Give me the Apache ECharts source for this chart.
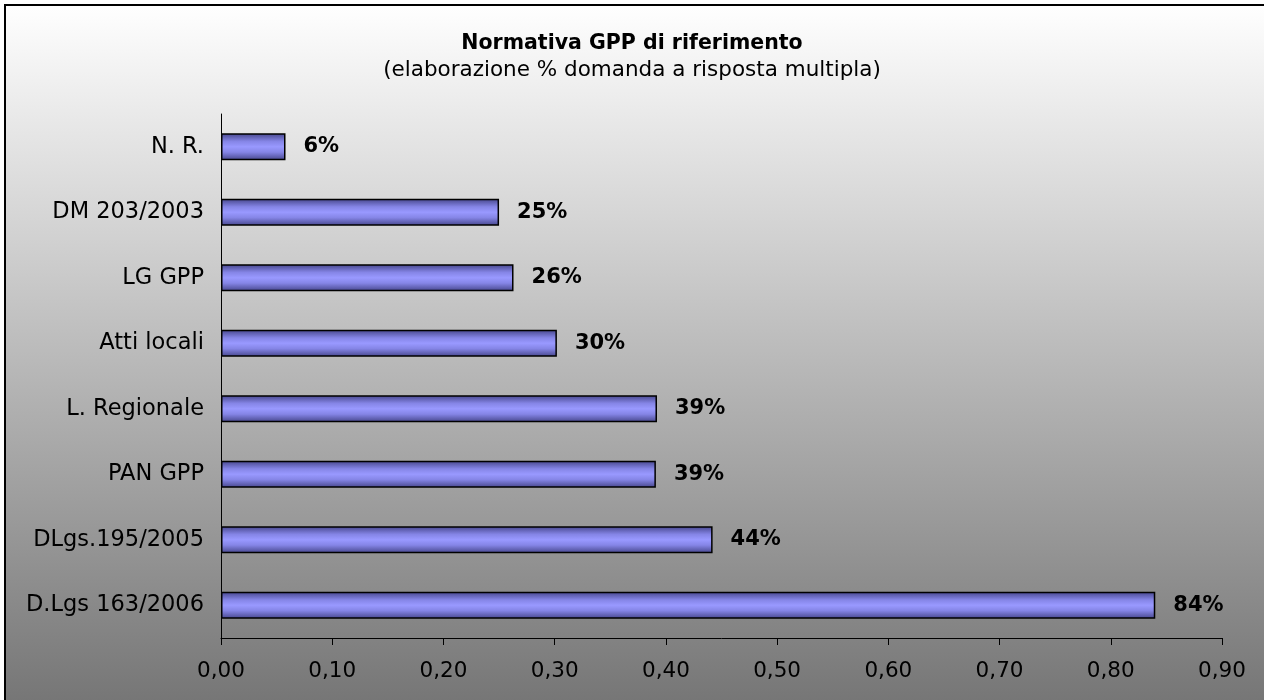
<!DOCTYPE html>
<html>
<head>
<meta charset="utf-8">
<script src="https://cdn.jsdelivr.net/npm/echarts@6/dist/echarts.min.js"></script>
<style>
html,body{margin:0;padding:0;background:#fff;}
#chart{width:1264px;height:700px;}
</style>
</head>
<body>
<div id="chart"></div>
<script>
// Data (top-to-bottom display order)
var categories = ['N. R.', 'DM 203/2003', 'LG GPP', 'Atti locali', 'L. Regionale', 'PAN GPP', 'DLgs.195/2005', 'D.Lgs 163/2006'];
var values = [0.058, 0.25, 0.263, 0.302, 0.392, 0.391, 0.442, 0.84];
var xTicks = ['0,00', '0,10', '0,20', '0,30', '0,40', '0,50', '0,60', '0,70', '0,80', '0,90'];
var titleText = 'Normativa GPP di riferimento';
var subtitleText = '(elaborazione % domanda a risposta multipla)';

var FONT = "'DejaVu Sans', Verdana, sans-serif";
var chart = echarts.init(document.getElementById('chart'));

var option = {
  animation: false,
  backgroundColor: '#ffffff',
  graphic: [{
    type: 'rect',
    silent: true,
    z: -100,
    shape: { x: 5, y: 5, width: 1320, height: 740 },
    style: {
      fill: new echarts.graphic.LinearGradient(0, 0, 0, 1, [
        { offset: 0, color: '#ffffff' },
        { offset: 0.94, color: '#767676' },
        { offset: 1, color: '#737373' }
      ]),
      stroke: '#000000',
      lineWidth: 2
    }
  }],
  title: {
    text: titleText,
    subtext: subtitleText,
    left: 'center',
    top: 28,
    itemGap: 4,
    textStyle: { fontFamily: FONT, fontSize: 20.5, fontWeight: 'bold', color: '#000', lineHeight: 22 },
    subtextStyle: { fontFamily: FONT, fontSize: 21.5, color: '#000', lineHeight: 22 }
  },
  grid: { left: 221, right: 42, top: 114, bottom: 62 },
  xAxis: {
    type: 'value',
    min: 0,
    max: 0.9,
    interval: 0.1,
    axisLine: { show: true, lineStyle: { color: '#000', width: 1 } },
    axisTick: { show: true, length: 7, lineStyle: { color: '#000' } },
    splitLine: { show: false },
    axisLabel: {
      fontFamily: FONT, fontSize: 21.5, color: '#000', margin: 22,
      formatter: function (v) { return xTicks[Math.round(v * 10)]; }
    }
  },
  yAxis: {
    type: 'category',
    data: categories,
    inverse: true,
    axisLine: { show: true, lineStyle: { color: '#000', width: 1 } },
    axisTick: { show: false },
    axisLabel: { fontFamily: FONT, fontSize: 22.5, color: '#000', margin: 17 }
  },
  series: [{
    type: 'bar',
    data: values,
    barWidth: 27,
    itemStyle: {
      color: new echarts.graphic.LinearGradient(0, 0, 0, 1, [
        { offset: 0, color: '#45458a' },
        { offset: 0.3, color: '#8585e6' },
        { offset: 0.5, color: '#9999ff' },
        { offset: 0.7, color: '#8585e6' },
        { offset: 1, color: '#45458a' }
      ]),
      borderColor: '#000',
      borderWidth: 1.5
    },
    label: {
      show: true,
      position: 'right',
      distance: 18,
      fontFamily: FONT,
      fontSize: 21,
      fontWeight: 'bold',
      color: '#000',
      formatter: function (p) { return Math.round(p.value * 100) + '%'; }
    }
  }]
};
chart.setOption(option);
</script>
</body>
</html>
